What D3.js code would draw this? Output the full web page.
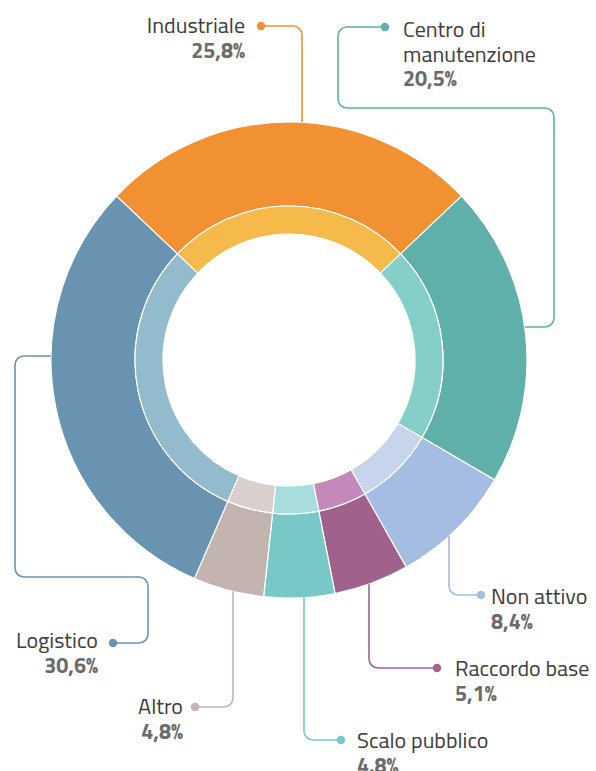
<!DOCTYPE html>
<html>
<head>
<meta charset="utf-8">
<script src="https://cdn.jsdelivr.net/npm/d3@7"></script>
<style>
  body { margin: 0; background: #fff; }
  text { font-family: "Titillium Web", Lato, sans-serif; }
</style>
</head>
<body>
<div id="chart"></div>
<script>
var categories = ["Industriale", "Centro di manutenzione", "Non attivo", "Raccordo base", "Scalo pubblico", "Altro", "Logistico"];
var values = [25.8, 20.5, 8.4, 5.1, 4.8, 4.8, 30.6];
var valueLabels = ["25,8%", "20,5%", "8,4%", "5,1%", "4.8%", "4,8%", "30,6%"];
var nameLines = [["Industriale"], ["Centro di", "manutenzione"], ["Non attivo"], ["Raccordo base"], ["Scalo pubblico"], ["Altro"], ["Logistico"]];

var outerColors = ["#f29132", "#5eb0a9", "#a5bde2", "#a0618c", "#78c8c8", "#c4b4b0", "#6894b2"];
var innerColors = ["#f6ba4a", "#84cfc8", "#c6d5ec", "#c389ba", "#a8dcdd", "#d9d0ce", "#92bbcd"];

var width = 596, height = 771;
var cx = 289, cy = 360;
var rOuter = 238, rMid = 154, rInner = 126;

// leader layout: where the line leaves the ring, then the bends, then the dot
var leaders = [
  {start: {x: 302, side: "top"}, pts: [[302, 26], [261, 26]], anchor: "end", tx: 245, ty: 33},
  {start: {y: 327, side: "right"}, pts: [[554, 327], [554, 108], [338, 108], [338, 27], [385, 27]], anchor: "start", tx: 403, ty: 37},
  {start: {x: 449, side: "bottom"}, pts: [[449, 595], [481, 595]], anchor: "start", tx: 491, ty: 604},
  {start: {x: 369, side: "bottom"}, pts: [[369, 668], [437, 668]], anchor: "start", tx: 455, ty: 676},
  {start: {x: 304, side: "bottom"}, pts: [[304, 740], [341, 740]], anchor: "start", tx: 357, ty: 748},
  {start: {x: 233, side: "bottom"}, pts: [[233, 707], [195, 707]], anchor: "end", tx: 183, ty: 714},
  {start: {y: 356, side: "left"}, pts: [[15, 356], [15, 577], [148, 577], [148, 643], [113, 643]], anchor: "end", tx: 98, ty: 648}
];

var svg = d3.select("#chart")
  .append("svg")
  .attr("width", width)
  .attr("height", height);

var data = categories.map(function(c, i) {
  return {name: c, value: values[i], i: i};
});

var half = values[0] / 100 * Math.PI;
var pie = d3.pie()
  .sort(null)
  .value(function(d) { return d.value; })
  .startAngle(-half)
  .endAngle(2 * Math.PI - half);

var arcs = pie(data);

var outerArc = d3.arc().innerRadius(rMid).outerRadius(rOuter);
var innerArc = d3.arc().innerRadius(rInner).outerRadius(rMid);

var g = svg.append("g")
  .attr("transform", "translate(" + cx + "," + cy + ")");

g.selectAll(".outer")
  .data(arcs)
  .enter()
  .append("path")
  .attr("class", "outer")
  .attr("d", outerArc)
  .attr("fill", function(d) { return outerColors[d.data.i]; })
  .attr("stroke", "#fff")
  .attr("stroke-width", 1.2);

g.selectAll(".inner")
  .data(arcs)
  .enter()
  .append("path")
  .attr("class", "inner")
  .attr("d", innerArc)
  .attr("fill", function(d) { return innerColors[d.data.i]; })
  .attr("stroke", "#fff")
  .attr("stroke-width", 1.2);

function startPoint(s) {
  if (s.side == "top") return [s.x, cy - Math.sqrt(rOuter * rOuter - (s.x - cx) * (s.x - cx))];
  if (s.side == "bottom") return [s.x, cy + Math.sqrt(rOuter * rOuter - (s.x - cx) * (s.x - cx))];
  if (s.side == "left") return [cx - Math.sqrt(rOuter * rOuter - (s.y - cy) * (s.y - cy)), s.y];
  return [cx + Math.sqrt(rOuter * rOuter - (s.y - cy) * (s.y - cy)), s.y];
}

function roundedPath(points, r) {
  var p = d3.path();
  p.moveTo(points[0][0], points[0][1]);
  for (var k = 1; k < points.length - 1; k++) {
    p.arcTo(points[k][0], points[k][1], points[k + 1][0], points[k + 1][1], r);
  }
  var last = points[points.length - 1];
  p.lineTo(last[0], last[1]);
  return p.toString();
}

var labels = svg.append("g");

leaders.forEach(function(l, i) {
  var pts = [startPoint(l.start)].concat(l.pts);
  var dot = pts[pts.length - 1];

  labels.append("path")
    .attr("d", roundedPath(pts, 9))
    .attr("fill", "none")
    .attr("stroke", outerColors[i])
    .attr("stroke-width", 1.6);

  labels.append("circle")
    .attr("cx", dot[0])
    .attr("cy", dot[1])
    .attr("r", 4.2)
    .attr("fill", outerColors[i]);

  var lines = nameLines[i];
  lines.forEach(function(t, j) {
    labels.append("text")
      .attr("x", l.tx)
      .attr("y", l.ty + j * 24.5)
      .attr("text-anchor", l.anchor)
      .attr("font-size", 22)
      .attr("fill", "#3d3d3d")
      .text(t);
  });

  labels.append("text")
    .attr("x", l.tx)
    .attr("y", l.ty + lines.length * 24.5)
    .attr("text-anchor", l.anchor)
    .attr("font-size", 21.5)
    .attr("font-weight", "bold")
    .attr("fill", "#6b6b6b")
    .text(valueLabels[i]);
});
</script>
</body>
</html>
